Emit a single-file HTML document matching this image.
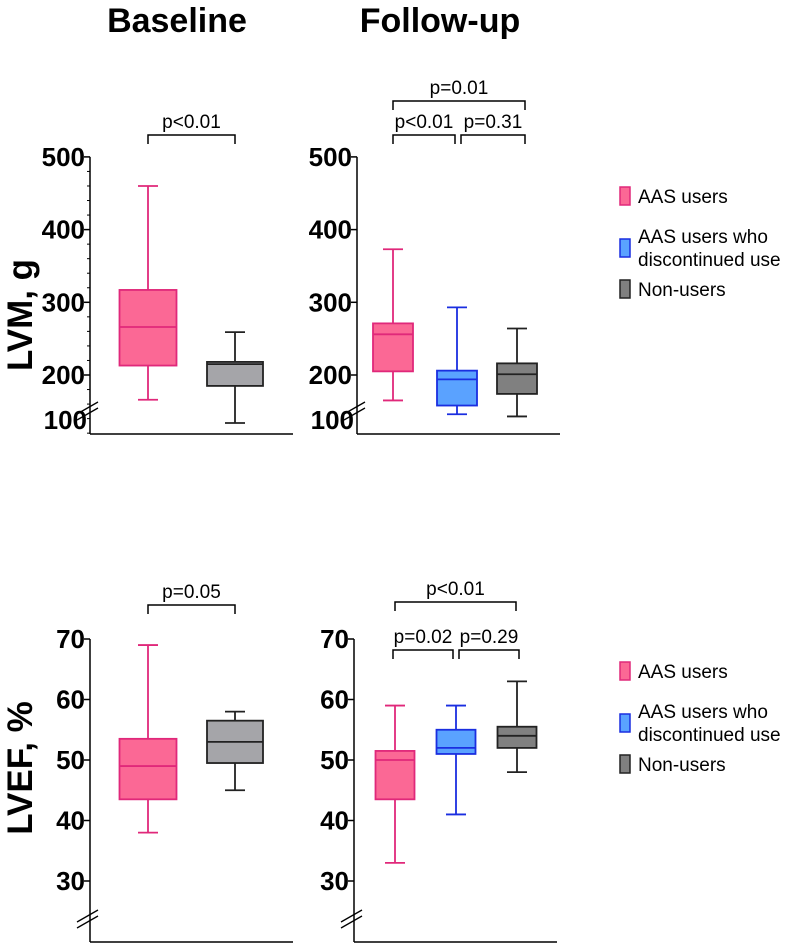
<!DOCTYPE html>
<html><head><meta charset="utf-8"><style>
body{margin:0;background:#fff}
svg{display:block;font-family:"Liberation Sans",Arial,sans-serif}
</style></head><body>
<svg id="c" width="796" height="943" viewBox="0 0 796 943">
<text x="177" y="32" font-size="34" font-weight="bold" text-anchor="middle">Baseline</text>
<text x="440" y="32" font-size="34" font-weight="bold" text-anchor="middle">Follow-up</text>
<text transform="translate(32,315) rotate(-90)" font-size="35" font-weight="bold" text-anchor="middle">LVM, g</text>
<text transform="translate(32,768) rotate(-90)" font-size="35" font-weight="bold" text-anchor="middle">LVEF, %</text>
</svg>
<script>
const groups=["AAS users","AAS users who discontinued use","Non-users"];
const lvmBase=[[166,213,266,317,460],[134,185,215,218,259]];
const lvmFollow=[[165,205,256,271,373],[146,158,194,206,293],[143,174,201,216,264]];
const lvefBase=[[38,43.5,49,53.5,69],[45,49.5,53,56.5,58]];
const lvefFollow=[[33,43.5,50,51.5,59],[41,51,52,55,59],[48,52,54,55.5,63]];
const lvmTicks=[500,400,300,200];
const lvefTicks=[70,60,50,40,30];
const pBaseLvm=["p<0.01"], pFollowLvm=["p=0.01","p<0.01","p=0.31"];
const pBaseLvef=["p=0.05"], pFollowLvef=["p<0.01","p=0.02","p=0.29"];
const NS="http://www.w3.org/2000/svg",svg=document.getElementById('c');
const fills={pink:"#fb6895",blue:"#5aa2ff",gray:"#a5a5a9",dgray:"#808080"};
function el(t,a,txt){const e=document.createElementNS(NS,t);for(const k in a)e.setAttribute(k,a[k]);if(txt!==undefined)e.textContent=txt;svg.appendChild(e);return e;}
const lvmY=v=>375-(v-200)*0.727;
const lvefY=v=>760-(v-50)*6.05;
function axis(x0,x1,yBase,ticks,yf,extraLabel,minor){
  let a=el('line',{x1:x0,y1:yf(ticks[0]),x2:x0,y2:yBase,stroke:'#000','stroke-width':1.5});
  
  let b=el('line',{x1:x0,y1:yBase,x2:x1,y2:yBase,stroke:'#000','stroke-width':1.5});
  
  ticks.forEach(t=>{const y=yf(t);
    let l=el('line',{x1:x0-6,y1:y,x2:x0,y2:y,stroke:'#000','stroke-width':1.5});
    
    let tx=el('text',{x:x0-5,y:y+9,'font-size':26,'font-weight':'bold','text-anchor':'end'},String(t));
    });
  if(minor){for(let v=ticks[ticks.length-1]-80;v<ticks[0];v+=20){if(v%100===0)continue;const y=yf(v);
    let m=el('line',{x1:x0-3,y1:y,x2:x0,y2:y,stroke:'#000','stroke-width':1});
    }}
  if(extraLabel){let tx=el('text',{x:x0-3,y:extraLabel[1]+9,'font-size':26,'font-weight':'bold','text-anchor':'end'},extraLabel[0]);
    }
  const by=yBase-28;
  [0,6].forEach(o=>{let s=el('line',{x1:x0-13,y1:by+8+o,x2:x0+8,y2:by-4+o,stroke:'#000','stroke-width':1.3});
    });
}
function box(cx,w,d,yf,fill,stroke){
  const g=el('g',{});
  const add=(t,a)=>{const e=document.createElementNS(NS,t);for(const k in a)e.setAttribute(k,a[k]);g.appendChild(e);};
  const sw=1.8;
  add('line',{x1:cx,y1:yf(d[4]),x2:cx,y2:yf(d[3]),stroke:stroke,'stroke-width':sw});
  add('line',{x1:cx,y1:yf(d[1]),x2:cx,y2:yf(d[0]),stroke:stroke,'stroke-width':sw});
  add('line',{x1:cx-10,y1:yf(d[4]),x2:cx+10,y2:yf(d[4]),stroke:stroke,'stroke-width':sw});
  add('line',{x1:cx-10,y1:yf(d[0]),x2:cx+10,y2:yf(d[0]),stroke:stroke,'stroke-width':sw});
  add('rect',{x:cx-w/2,y:yf(d[3]),width:w,height:yf(d[1])-yf(d[3]),fill:fill,stroke:stroke,'stroke-width':sw});
  add('line',{x1:cx-w/2,y1:yf(d[2]),x2:cx+w/2,y2:yf(d[2]),stroke:stroke,'stroke-width':sw});
}
function bracket(xa,xb,y,label){
  let p=el('path',{d:`M${xa},${y+9}V${y}H${xb}V${y+9}`,fill:'none',stroke:'#000','stroke-width':1.5});
  
  let t=el('text',{x:(xa+xb)/2,y:y-7,'font-size':19,'text-anchor':'middle'},label);
  
}
function legend(y0){
  const items=[[groups[0],fills.pink,'#e0287a'],[groups[1],fills.blue,'#1a2ee0'],[groups[2],fills.dgray,'#222']];
  const ys=[y0,y0+52,y0+93];
  const g=el('g',{});
  items.forEach((it,i)=>{
    const yc=ys[i];
    let r=el('rect',{x:620,y:yc-9,width:10,height:18,fill:it[1],stroke:it[2],'stroke-width':1.5});
    
    if(i===1){
      let t=el('text',{x:638,y:yc-5,'font-size':19},"AAS users who");
      
      let t2=el('text',{x:638,y:yc+18,'font-size':19},"discontinued use");
      
    } else {
      let t=el('text',{x:638,y:yc+7,'font-size':19},it[0]);
      
    }
  });
}
axis(90,293,434,lvmTicks,lvmY,["100",420],true);
box(148,57,lvmBase[0],lvmY,fills.pink,'#e0287a');
box(235,56,lvmBase[1],lvmY,fills.gray,'#222');
bracket(148,235,135,pBaseLvm[0]);
axis(357,560,434,lvmTicks,lvmY,["100",420],false);
box(393,40,lvmFollow[0],lvmY,fills.pink,'#e0287a');
box(457,40,lvmFollow[1],lvmY,fills.blue,'#1a2ee0');
box(517,40,lvmFollow[2],lvmY,fills.dgray,'#222');
bracket(393,525,101,pFollowLvm[0]);
bracket(393,455,135,pFollowLvm[1]);
bracket(461,525,135,pFollowLvm[2]);
legend(196);
axis(90,293,942,lvefTicks,lvefY,null,false);
box(148,57,lvefBase[0],lvefY,fills.pink,'#e0287a');
box(235,56,lvefBase[1],lvefY,fills.gray,'#222');
bracket(148,235,605,pBaseLvef[0]);
axis(354,557,942,lvefTicks,lvefY,null,false);
box(395,39,lvefFollow[0],lvefY,fills.pink,'#e0287a');
box(456,39,lvefFollow[1],lvefY,fills.blue,'#1a2ee0');
box(517,39,lvefFollow[2],lvefY,fills.dgray,'#222');
bracket(395,516,602,pFollowLvef[0]);
bracket(393,453,650,pFollowLvef[1]);
bracket(459,519,650,pFollowLvef[2]);
legend(671);
</script>
</body></html>
